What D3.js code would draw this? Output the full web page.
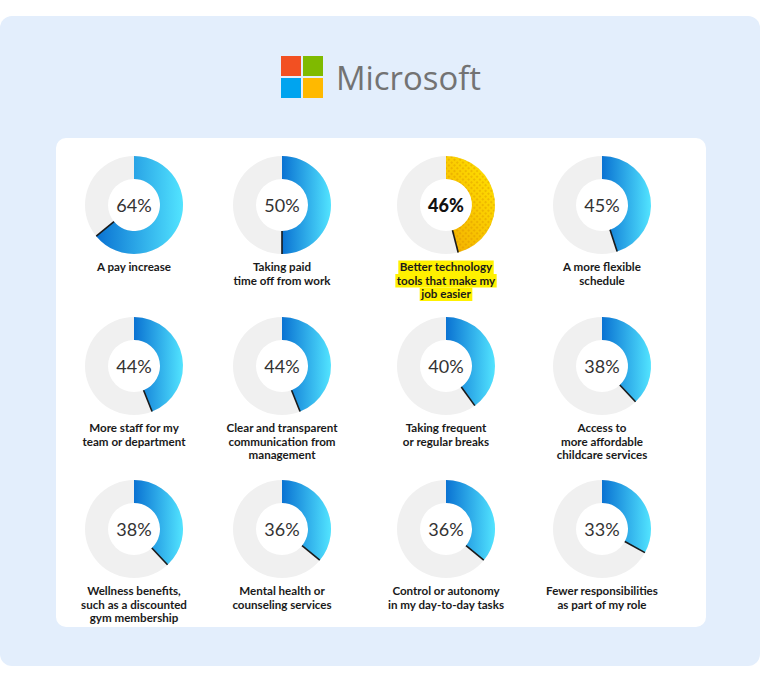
<!DOCTYPE html>
<html>
<head>
<meta charset="utf-8">
<script src="https://cdn.jsdelivr.net/npm/d3@7"></script>
<style>
  html, body { margin: 0; padding: 0; background: #ffffff; }
  svg { display: block; }
</style>
</head>
<body>
<svg id="chart" width="762" height="683"></svg>
<script>
// ---------- data ----------
const categories = [
  ["A pay increase"],
  ["Taking paid", "time off from work"],
  ["Better technology", "tools that make my", "job easier"],
  ["A more flexible", "schedule"],
  ["More staff for my", "team or department"],
  ["Clear and transparent", "communication from", "management"],
  ["Taking frequent", "or regular breaks"],
  ["Access to", "more affordable", "childcare services"],
  ["Wellness benefits,", "such as a discounted", "gym membership"],
  ["Mental health or", "counseling services"],
  ["Control or autonomy", "in my day-to-day tasks"],
  ["Fewer responsibilities", "as part of my role"]
];
const values = [64, 50, 46, 45, 44, 44, 40, 38, 38, 36, 36, 33];
const highlighted = [false, false, true, false, false, false, false, false, false, false, false, false];
const brandName = "Microsoft";

// ---------- layout ----------
const colX = [134, 282, 446, 602];
const rowY = [205, 366, 529];
const outerR = 49, innerR = 26;

const svg = d3.select("#chart");
const defs = svg.append("defs");

// gradients
const blue = defs.append("linearGradient").attr("id", "blueGrad")
  .attr("x1", 0).attr("y1", 0).attr("x2", 1).attr("y2", 0);
blue.append("stop").attr("offset", "0%").attr("stop-color", "#0a72d2");
blue.append("stop").attr("offset", "100%").attr("stop-color", "#52e4ff");

const yel = defs.append("linearGradient").attr("id", "yelGrad")
  .attr("x1", 0.9).attr("y1", 0.1).attr("x2", 0.2).attr("y2", 1);
yel.append("stop").attr("offset", "0%").attr("stop-color", "#ffe000");
yel.append("stop").attr("offset", "100%").attr("stop-color", "#f4b200");

const pat = defs.append("pattern").attr("id", "dots")
  .attr("width", 4).attr("height", 4).attr("patternUnits", "userSpaceOnUse")
  .attr("patternTransform", "rotate(45)");
pat.append("circle").attr("cx", 2).attr("cy", 2).attr("r", 1).attr("fill", "rgba(210,130,0,0.45)");

// background panel & card
svg.append("rect").attr("x", 0).attr("y", 16).attr("width", 760).attr("height", 650)
  .attr("rx", 12).attr("fill", "#e3eefc");
svg.append("rect").attr("x", 56).attr("y", 138).attr("width", 650).attr("height", 489)
  .attr("rx", 10).attr("fill", "#ffffff");

// logo
const logoColors = ["#f25022", "#7fba00", "#00a4ef", "#ffb900"];
const logo = svg.append("g").attr("transform", "translate(281,56)");
logo.selectAll("rect").data(logoColors).join("rect")
  .attr("x", (d, i) => (i % 2) * 22)
  .attr("y", (d, i) => Math.floor(i / 2) * 22)
  .attr("width", 20).attr("height", 20).attr("fill", d => d);
svg.append("text").attr("x", 336).attr("y", 90)
  .attr("font-family", "'Open Sans', 'Noto Sans', sans-serif")
  .attr("font-size", 32).attr("font-weight", 500).attr("fill", "#737373")
  .attr("textLength", 145).attr("lengthAdjust", "spacingAndGlyphs")
  .text(brandName);

// scales
const angle = d3.scaleLinear().domain([0, 100]).range([0, 2 * Math.PI]);
const arc = d3.arc().innerRadius(innerR).outerRadius(outerR);

const items = values.map((v, i) => ({ v, label: categories[i], hl: highlighted[i], i }));

const g = svg.selectAll("g.donut").data(items).join("g")
  .attr("class", "donut")
  .attr("transform", d => `translate(${colX[d.i % 4]},${rowY[Math.floor(d.i / 4)]})`);

// track
g.append("path").attr("d", arc({ startAngle: 0, endAngle: 2 * Math.PI })).attr("fill", "#f0f0f0");
// value arc
g.append("path").attr("d", d => arc({ startAngle: 0, endAngle: angle(d.v) }))
  .attr("fill", d => d.hl ? "url(#yelGrad)" : "url(#blueGrad)");
g.filter(d => d.hl).append("path").attr("d", d => arc({ startAngle: 0, endAngle: angle(d.v) }))
  .attr("fill", "url(#dots)");
// end shadow line
g.append("line")
  .attr("x1", d => Math.sin(angle(d.v)) * innerR)
  .attr("y1", d => -Math.cos(angle(d.v)) * innerR)
  .attr("x2", d => Math.sin(angle(d.v)) * outerR)
  .attr("y2", d => -Math.cos(angle(d.v)) * outerR)
  .attr("stroke", "#1a1a1a").attr("stroke-width", 1.6);

// value text
g.append("text").attr("text-anchor", "middle").attr("y", 7)
  .attr("font-family", "Lato, 'Open Sans', sans-serif")
  .attr("font-size", 18)
  .attr("font-weight", d => d.hl ? 900 : 400)
  .attr("fill", d => d.hl ? "#111" : "#333")
  .text(d => d.v + "%");

// labels
const lineH = 13.5;
g.each(function(d) {
  const sel = d3.select(this);
  const lg = sel.append("g");
  d.label.forEach((line, k) => {
    const t = lg.append("text").attr("text-anchor", "middle")
      .attr("y", 66 + k * lineH)
      .attr("font-family", "Lato, 'Open Sans', sans-serif")
      .attr("font-size", 11.6).attr("font-weight", 700)
      .attr("fill", "#1a1a1a").text(line);
    if (d.hl) {
      const w = t.node().getComputedTextLength();
      lg.insert("rect", "text").attr("x", -w / 2 - 1.5).attr("y", 66 + k * lineH - 10.5)
        .attr("width", w + 3).attr("height", lineH).attr("fill", "#fff100");
    }
  });
});
</script>
</body>
</html>
